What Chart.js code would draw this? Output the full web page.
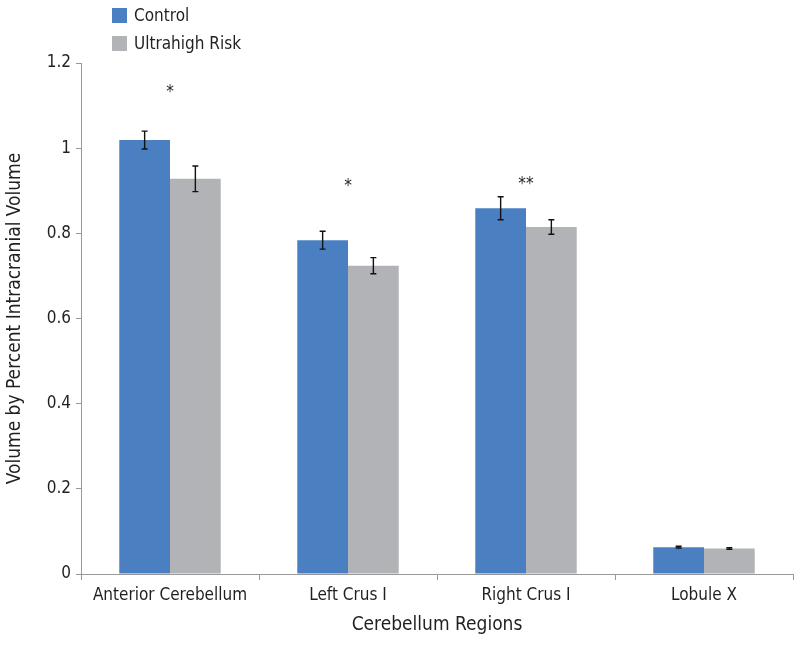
<!DOCTYPE html>
<html>
<head>
<meta charset="utf-8">
<script src="https://cdn.jsdelivr.net/npm/chart.js@4"></script>
<style>
  body { margin: 0; background: #fff; }
  #wrap { position: relative; width: 800px; height: 645px; }
  #legend { position: absolute; left: 112px; top: 5px; font-family: "DejaVu Sans Condensed", sans-serif; font-size: 17px; color: #231f20; }
  #legend div { height: 28px; line-height: 20px; }
  #legend span.box { display: inline-block; width: 15px; height: 15px; margin-right: 7px; vertical-align: -2px; }
</style>
</head>
<body>
<div id="wrap">
  <canvas id="chart" width="800" height="645"></canvas>
  <div id="legend"></div>
</div>
<script>
// === data ===
const regions = ['Anterior Cerebellum', 'Left Crus I', 'Right Crus I', 'Lobule X'];
const controlVals = [1.019, 0.784, 0.859, 0.063];
const controlErr = [0.021, 0.021, 0.027, 0.002];
const uhrVals = [0.928, 0.724, 0.815, 0.060];
const uhrErr = [0.030, 0.019, 0.017, 0.002];
const sigMarks = ['*', '*', '**', ''];
const sigLevels = [1.137, 0.918, 0.921, 0];
const yTicks = [0, 0.2, 0.4, 0.6, 0.8, 1, 1.2];

const FONT = '"DejaVu Sans Condensed", sans-serif';
const BLUE = '#4a80c2';
const GREY = '#b2b3b7';

// legend (html)
const legend = document.getElementById('legend');
[['Control', BLUE], ['Ultrahigh Risk', GREY]].forEach(([name, col]) => {
  const d = document.createElement('div');
  d.innerHTML = `<span class="box" style="background:${col}"></span>${name}`;
  legend.appendChild(d);
});

// error bars + asterisks
const extras = {
  id: 'extras',
  afterDatasetsDraw(chart) {
    const ctx = chart.ctx;
    const y = chart.scales.y;
    const errs = [controlErr, uhrErr];
    ctx.save();
    ctx.strokeStyle = '#111';
    ctx.lineWidth = 1.4;
    chart.data.datasets.forEach((ds, i) => {
      chart.getDatasetMeta(i).data.forEach((bar, j) => {
        const v = ds.data[j], e = errs[i][j];
        const top = y.getPixelForValue(v + e);
        const bot = y.getPixelForValue(v - e);
        ctx.beginPath();
        ctx.moveTo(bar.x, top); ctx.lineTo(bar.x, bot);
        ctx.moveTo(bar.x - 3, top); ctx.lineTo(bar.x + 3, top);
        ctx.moveTo(bar.x - 3, bot); ctx.lineTo(bar.x + 3, bot);
        ctx.stroke();
      });
    });
    ctx.fillStyle = '#231f20';
    ctx.font = '17px ' + FONT;
    ctx.textAlign = 'center';
    ctx.textBaseline = 'middle';
    sigMarks.forEach((m, j) => {
      if (!m) return;
      ctx.fillText(m, chart.scales.x.getPixelForValue(j), y.getPixelForValue(sigLevels[j]) + 3);
    });
    ctx.restore();
  }
};

new Chart(document.getElementById('chart').getContext('2d'), {
  type: 'bar',
  data: {
    labels: regions,
    datasets: [
      { label: 'Control', data: controlVals, backgroundColor: BLUE },
      { label: 'Ultrahigh Risk', data: uhrVals, backgroundColor: GREY }
    ]
  },
  options: {
    responsive: false,
    animation: false,
    layout: { padding: { top: 63, right: 7, left: 0, bottom: 0 } },
    plugins: { legend: { display: false }, tooltip: { enabled: false } },
    datasets: { bar: { categoryPercentage: 0.57, barPercentage: 1 } },
    scales: {
      x: {
        grid: { display: true, drawOnChartArea: false, offset: true, tickLength: 6, color: '#999' },
        border: { color: '#999' },
        ticks: { color: '#231f20', font: { family: FONT, size: 17 }, padding: 5, maxRotation: 0, minRotation: 0, autoSkip: false },
        title: { display: true, text: 'Cerebellum Regions', color: '#231f20', font: { family: FONT, size: 19 }, padding: { top: 2, bottom: 9 } },
        afterFit(s) { s.height = 71; }
      },
      y: {
        min: 0, max: 1.2,
        afterBuildTicks(s) { s.ticks = yTicks.map(v => ({ value: v })); },
        grid: { display: true, drawOnChartArea: false, tickLength: 5, color: '#999' },
        border: { color: '#999' },
        ticks: { color: '#231f20', font: { family: FONT, size: 17 }, padding: 5, callback: v => String(v) },
        title: { display: true, text: 'Volume by Percent Intracranial Volume', color: '#231f20', font: { family: FONT, size: 19 }, padding: { top: 4, bottom: 0 } },
        afterFit(s) { s.width = 81; }
      }
    }
  },
  plugins: [extras]
});
</script>
</body>
</html>
